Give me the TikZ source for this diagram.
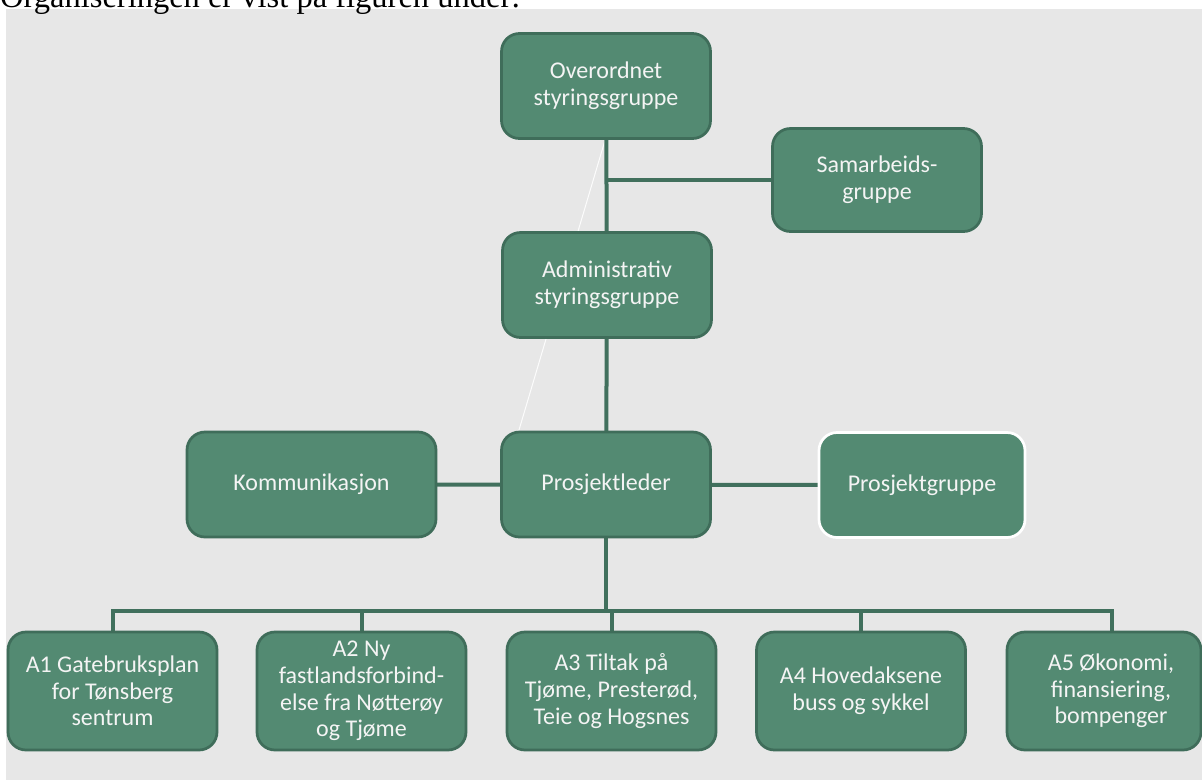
\documentclass[tikz,border=0pt]{standalone}
\usepackage{fontspec}
\setmainfont{Carlito}
\newfontfamily\serifdoc{Liberation Serif}
\definecolor{pagebg}{HTML}{E7E7E7}
\definecolor{boxfill}{HTML}{538A72}
\definecolor{boxedge}{HTML}{3F6D5A}
\definecolor{conn}{HTML}{41705D}
\definecolor{boxtext}{HTML}{F4F4F4}
\pgfdeclarelayer{back}
\pgfsetlayers{back,main}
\begin{document}
\begin{tikzpicture}[x=1pt,y=-1pt,
  orgbox/.style={draw=boxedge, line width=2.75pt, fill=boxfill, rounded corners=18pt,
    text=boxtext, align=center, font=\fontsize{24}{26.7}\selectfont, inner sep=0pt,
    minimum width=209pt, minimum height=105pt},
  lowbox/.style={orgbox, minimum height=118pt},
  whitebox/.style={orgbox, draw=white},
  link/.style={draw=conn, line width=4pt}]
\useasboundingbox (0,0) rectangle (1202,780);
\clip (0,0) rectangle (1202,780);
\node[anchor=base west, font=\serifdoc\fontsize{32.5}{37}\selectfont, inner sep=0pt] (intro) at (0,7) {Organiseringen er vist på figuren under:};

% boxes
\node[orgbox] (over) at (606,86) {Overordnet\\styringsgruppe};
\node[orgbox, minimum height=103pt] (sam) at (877,180) {Samarbeids-\\gruppe};
\node[orgbox] (adm) at (607,285) {Administrativ\\styringsgruppe};
\node[orgbox, minimum width=249pt] (kom) at (311.5,484.5) {Kommunikasjon};
\node[orgbox] (pl) at (606,484.5) {Prosjektleder};
\node[whitebox, minimum width=206pt] (pg) at (922,485) {Prosjektgruppe};
\node[lowbox] (a1) at (112.5,691) {A1 Gatebruksplan\\for Tønsberg\\sentrum};
\node[lowbox] (a2) at (361.5,691) {A2 Ny\\fastlandsforbind-\\else fra Nøtterøy\\og Tjøme};
\node[lowbox] (a3) at (611.5,691) {A3 Tiltak på\\Tjøme, Presterød,\\Teie og Hogsnes};
\node[lowbox] (a4) at (861,691) {A4 Hovedaksene\\buss og sykkel};
\node[lowbox, minimum width=194pt] (a5) at (1104,691) {\hspace*{14pt}A5 Økonomi,\\\hspace*{14pt}finansiering,\\\hspace*{14pt}bompenger};

\coordinate (bus) at (606,611);
\coordinate (a5top) at (1112,632);
\coordinate (streakA) at (605.7,138);
\coordinate (streakB) at (518.4,432);

\begin{pgfonlayer}{back}
  \fill[pagebg] (6,9) rectangle (1202,780);
  \draw[white, line width=1pt, opacity=0.9] (streakA) -- (streakB);
  \draw[link] (over.center) -- (adm.center);
  \draw[link] (over.center |- sam.west) -- (sam.center);
  \draw[link] (adm.center) -- (pl.center);
  \draw[link] (kom.center) -- (pg.center);
  \draw[link] (pl.center) -- (bus);
  \draw[link] (a1.center) -- (a1.center |- bus) -- (a5top |- bus) -- (a5top);
  \draw[link] (a2.center) -- (a2.center |- bus);
  \draw[link] (a3.center) -- (a3.center |- bus);
  \draw[link] (a4.center) -- (a4.center |- bus);
\end{pgfonlayer}
\end{tikzpicture}
\end{document}
